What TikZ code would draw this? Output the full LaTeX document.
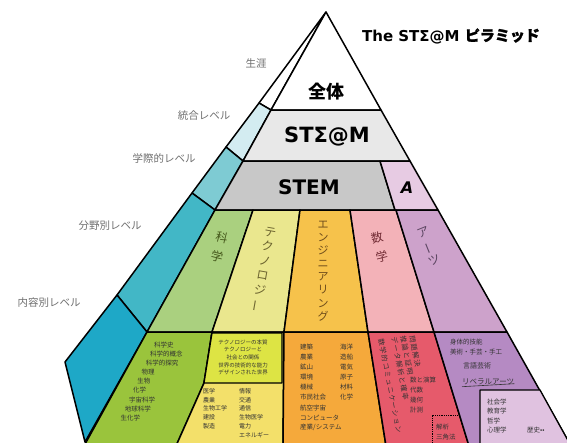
\documentclass[tikz,border=0pt]{standalone}
\usepackage{fontspec}
\usepackage{graphicx}
\setmainfont{Noto Sans CJK JP}
\newfontfamily\latf{DejaVu Sans}
\newfontfamily\jpsp[LetterSpace=15]{Noto Sans CJK JP}
\definecolor{lvA}{HTML}{D3ECF1}
\definecolor{lvB}{HTML}{7ECBD3}
\definecolor{lvC}{HTML}{42B7C6}
\definecolor{lvD}{HTML}{1EA8C7}
\definecolor{gA}{HTML}{E8E8E8}
\definecolor{gB}{HTML}{C8C8C8}
\definecolor{aPk}{HTML}{E7CBE3}
\definecolor{cSci}{HTML}{AAD07F}
\definecolor{cTec}{HTML}{EAE78E}
\definecolor{cEng}{HTML}{F6C24B}
\definecolor{cMat}{HTML}{F3B2B8}
\definecolor{cArt}{HTML}{CDA2CB}
\definecolor{lSci}{HTML}{9AC43C}
\definecolor{lTec}{HTML}{F3E06A}
\definecolor{lBox}{HTML}{DDE444}
\definecolor{lEng}{HTML}{F5A93B}
\definecolor{lMat}{HTML}{E65A6B}
\definecolor{lArt}{HTML}{B58AC3}
\definecolor{lArtBox}{HTML}{E0C2E0}
\definecolor{lvltxt}{HTML}{6E6E6E}
\newcommand\vbarj{\rotatebox[origin=c]{90}{ー}}
\tikzset{
  face/.style={draw=black, line width=1.5pt, line join=round},
  lvl/.style={text=lvltxt, font=\fontsize{10.5}{10.5}\selectfont, inner sep=0pt},
  tx/.style={anchor=west, inner sep=0pt, font=\fontsize{6.5}{7}\selectfont, text=black!80},
  txs/.style={anchor=west, inner sep=0pt, font=\fontsize{6}{7}\selectfont, text=black!80},
  mrot/.style={anchor=west, inner sep=0pt, font=\jpsp\fontsize{7}{7}\selectfont, text=black!80, rotate=-79},
  big/.style={inner sep=0pt, font=\latf\bfseries\fontsize{21}{21}\selectfont},
  vcol/.style={inner sep=0pt, align=center},
}
\begin{document}
\begin{tikzpicture}[x=1pt,y=-1pt]
\useasboundingbox (0,0) rectangle (567,442);
% left face
\filldraw[face, fill=white] (326,12) -- (259,103) -- (271,110) -- cycle;
\filldraw[face, fill=lvA] (259,103) -- (271,110) -- (243,161) -- (226,147) -- cycle;
\filldraw[face, fill=lvB] (226,147) -- (243,161) -- (215,210) -- (192,193) -- cycle;
\filldraw[face, fill=lvC] (192,193) -- (215,210) -- (147,332) -- (117,295) -- cycle;
\filldraw[face, fill=lvD] (117,295) -- (147,332) -- (85,442) -- (65,362) -- cycle;
% front face top bands
\filldraw[face, fill=white] (326,12) -- (271,110) -- (381,110) -- cycle;
\filldraw[face, fill=gA] (271,110) -- (381,110) -- (410,161) -- (243,161) -- cycle;
\filldraw[face, fill=gB] (243,161) -- (380,161) -- (395,210) -- (215,210) -- cycle;
\filldraw[face, fill=aPk] (380,161) -- (410,161) -- (438,210) -- (395,210) -- cycle;
% upper columns
\filldraw[face, fill=cSci] (215,210) -- (253,210) -- (212,332) -- (147,332) -- cycle;
\filldraw[face, fill=cTec] (253,210) -- (300,210) -- (284,332) -- (212,332) -- cycle;
\filldraw[face, fill=cEng] (300,210) -- (350,210) -- (368,332) -- (284,332) -- cycle;
\filldraw[face, fill=cMat] (350,210) -- (396,210) -- (434,332) -- (368,332) -- cycle;
\filldraw[face, fill=cArt] (396,210) -- (438,210) -- (507,332) -- (434,332) -- cycle;
% lower columns
\filldraw[face, fill=lSci] (147,332) -- (212,332) -- (204,383) -- (176,446) -- (84,446) -- cycle;
\filldraw[face, fill=lTec] (212,332) -- (284,332) -- (283,446) -- (176,446) -- (204,383) -- cycle;
\filldraw[face, fill=lBox, line width=1.3pt] (212,333) -- (282,333) -- (282,383) -- (204,383) -- cycle;
\filldraw[face, fill=lEng] (284,332) -- (368,332) -- (386,446) -- (283,446) -- cycle;
\filldraw[face, fill=lMat] (368,332) -- (434,332) -- (469,446) -- (386,446) -- cycle;
\filldraw[face, fill=lArt] (434,332) -- (507,332) -- (571,446) -- (469,446) -- cycle;
\filldraw[face, fill=lArtBox, line width=1.3pt] (480,446) -- (480,390) -- (540,390) -- (571,446) -- cycle;
\draw[densely dotted, line width=0.8pt] (432,446) -- (432,415) -- (459,415);

% title
\node[inner sep=0pt] (title) at (451,36) {\latf\bfseries\fontsize{15}{15}\selectfont The ST\char"03A3@M \fontspec{Noto Sans CJK JP}[FakeBold=1.5]ピラミッド};
% big labels
\node[inner sep=0pt, font=\bfseries\fontsize{18}{18}\selectfont] (zentai) at (326,92) {全体};
\node[big] (steam) at (327,137) {ST\char"03A3@M};
\node[big, font=\latf\bfseries\fontsize{20}{20}\selectfont] (stem) at (309,187) {STEM};
\node[inner sep=0pt, font=\latf\bfseries\itshape\fontsize{16}{16}\selectfont] (alab) at (407,188) {A};
% level labels
\node[lvl] (l1) at (256,64) {生涯};
\node[lvl] (l2) at (204,116) {統合レベル};
\node[lvl] (l3) at (164,158) {学際的レベル};
\node[lvl] (l4) at (110,226) {分野別レベル};
\node[lvl] (l5) at (49,303) {内容別レベル};
% column labels
\node[vcol, rotate=-14, text=black!55!lSci, font=\fontsize{12}{20}\selectfont] (csci) at (219.5,247) {科\\学};
\node[vcol, rotate=-10, text=black!55!lTec, font=\fontsize{12}{14.8}\selectfont] (ctec) at (263.5,270) {テ\\ク\\ノ\\ロ\\ジ\\\vbarj};
\node[vcol, text=black!55!lEng, font=\fontsize{11}{13.1}\selectfont] (ceng) at (323,271) {エ\\ン\\ジ\\ニ\\ア\\リ\\ン\\グ};
\node[vcol, rotate=14, text=black!50!lMat, font=\fontsize{12}{20}\selectfont] (cmat) at (379.5,247) {数\\学};
\node[vcol, rotate=22, text=black!50!lArt, font=\fontsize{12}{15}\selectfont] (cart) at (429,246) {ア\\\vbarj\\ツ};
% science list
\foreach \t [count=\i from 0] in {科学史,科学的概念,科学的探究,物理,生物,化学,宇宙科学,地球科学,生化学}
  \node[tx] (s\i) at ({154-4.2*\i},{345+9.1*\i}) {\t};
% technology box
\node[inner sep=0pt, align=center, font=\fontsize{5.5}{7.7}\selectfont, text=black!80] (tbox) at (243,357.5)
  {テクノロジーの本質\\テクノロジーと\\社会との関係\\世界の技術的な能力\\デザインされた世界};
\foreach \t [count=\i from 0] in {医学,農業,生物工学,建設,製造}
  \node[txs] (ta\i) at (203,{391+8.8*\i}) {\t};
\foreach \t [count=\i from 0] in {情報,交通,通信,生物医学,電力,エネルギー}
  \node[txs] (tb\i) at (239,{391+8.8*\i}) {\t};
% engineering
\foreach \t [count=\i from 0] in {建築,農業,鉱山,環境,機械,市民社会,航空宇宙,コンピュータ,産業/システム}
  \node[tx] (ea\i) at (300,{347+10.1*\i}) {\t};
\foreach \t [count=\i from 0] in {海洋,造船,電気,原子,材料,化学}
  \node[tx] (eb\i) at (340,{347+10.1*\i}) {\t};
% math
\node[mrot] (m1) at (412,336) {問題解決};
\node[mrot] (m2) at (403,336) {推論と証明};
\node[mrot] (m3) at (394,337) {データ解析と確率};
\node[mrot] (m4) at (381,339) {数学的コミュニケーション};
\foreach \t [count=\i from 0] in {数と演算,代数,幾何,計測}
  \node[tx] (mh\i) at (410,{380+10*\i}) {\t};
\node[tx] (md1) at (436,427) {解析};
\node[tx] (md2) at (436,437) {三角法};
% arts
\node[tx] (a1) at (450,342) {身体的技能};
\node[tx] (a2) at (450,352) {美術・手芸・手工};
\node[tx, font=\fontsize{7}{8}\selectfont] (a3) at (463,366) {言語芸術};
\node[tx, font=\fontsize{7.5}{8}\selectfont] (a4) at (462,382) {リベラルアーツ};
\draw[line width=0.6pt, black!80] (a4.south west) ++(0,1.5) -- ([yshift=1.5pt]a4.south east);
\foreach \t [count=\i from 0] in {社会学,教育学,哲学,心理学}
  \node[tx] (ab\i) at (487,{402+9.3*\i}) {\t};
\node[tx] (ab4) at (527,430) {歴史••};
\end{tikzpicture}
\end{document}
